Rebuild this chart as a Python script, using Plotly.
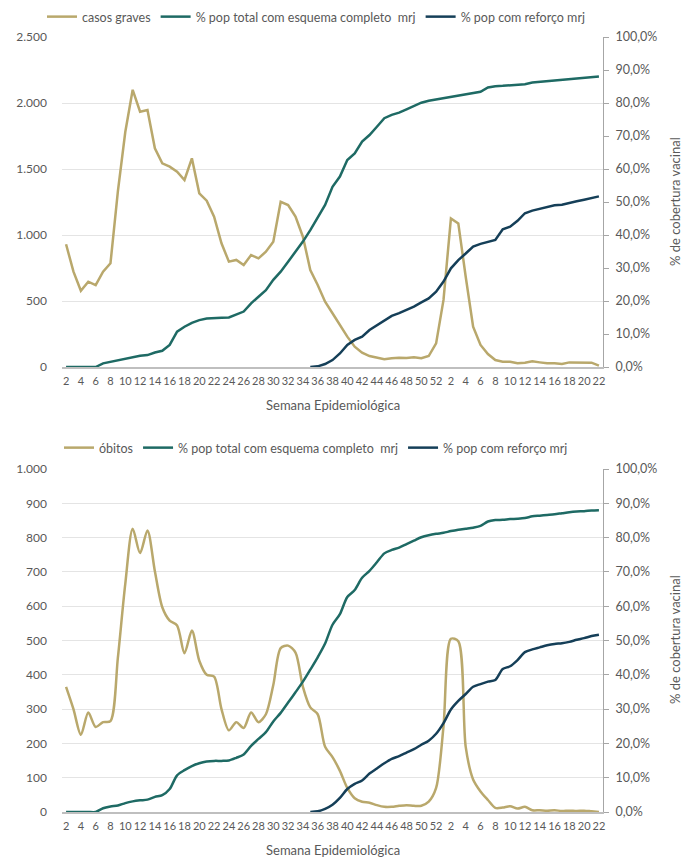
import plotly.graph_objects as go

# ---- data ----
weeks = list(range(2, 53)) + list(range(1, 23))  # SE 2021 (2..52) + SE 2022 (1..22)

casos_graves = [930, 722, 578, 646, 621, 722, 786, 1330, 1780, 2100,
                1934, 1947, 1657, 1543, 1518, 1480, 1417, 1581, 1316, 1260,
                1139, 937, 798, 811, 773, 848, 823, 873, 949, 1252,
                1227, 1139, 987, 735, 621, 495, 407, 318, 230, 154,
                109, 83, 71, 58, 66, 71, 68, 73, 66, 83,
                179,
                508, 1126, 1088, 684, 305, 167, 98, 53, 40, 40,
                28, 33, 43, 35, 28, 28, 23, 35, 33, 35,
                33, 10]

obitos = [365, 300, 225, 290, 248, 262, 265, 450, 665, 826,
          755, 821, 702, 597, 558, 544, 463, 529, 441, 400,
          395, 300, 238, 262, 245, 290, 262, 285, 370, 478,
          485, 465, 365, 305, 285, 190, 160, 120, 70, 40,
          30, 27, 20, 15, 15, 18, 20, 18, 18, 30,
          70,
          250, 505, 498, 190, 95, 60, 35, 12, 13, 17,
          10, 15, 5, 5, 4, 5, 3, 4, 3, 4,
          2, 0]

esquema_completo = [0, 0, 0, 0, 0, 1.1, 1.6, 1.9, 2.6, 3.1,
                    3.4, 3.6, 4.4, 4.9, 6.7, 10.7, 12.2, 13.4, 14.2, 14.7,
                    14.9, 14.9, 15.0, 15.8, 16.8, 19.3, 21.3, 23.3, 26.4, 28.9,
                    31.9, 34.9, 38.0, 41.5, 45.1, 49.1, 54.6, 57.7, 62.7, 64.7,
                    68.3, 70.3, 72.8, 75.4, 76.4, 77.1, 78.1, 79.1, 80.1, 80.7,
                    81.1,
                    81.4, 81.9, 82.3, 82.6, 82.9, 83.4, 84.7, 85.1, 85.2, 85.4,
                    85.5, 85.7, 86.2, 86.4, 86.6, 86.8, 87.1, 87.4, 87.6, 87.7,
                    87.9, 88.0]

reforco = [None] * 33 + [0, 0.2, 0.9, 2.1, 4.1, 6.7, 8.2, 9.2, 11.2, 12.7,
                         14.2, 15.5, 16.3, 17.3, 18.3, 19.6, 20.8, 22.8,
                         25.9, 29.9, 32.4, 34.4, 36.5, 37.3, 38.0, 38.5, 41.7, 42.5,
                         44.3, 46.6, 47.4, 48.0, 48.6, 49.0, 49.2, 49.6, 50.2, 50.7,
                         51.3, 51.7]

left_ticks_top = [0, 500, 1000, 1500, 2000, 2500]
left_ticks_bottom = [0, 100, 200, 300, 400, 500, 600, 700, 800, 900, 1000]
right_ticks = [0, 0.1, 0.2, 0.3, 0.4, 0.5, 0.6, 0.7, 0.8, 0.9, 1.0]

# ---- styling ----
C_CASOS = "#B9A86C"
C_COMPLETO = "#1E6A64"
C_REFORCO = "#153F58"
TXT = "#595959"
GRID = "#E4E4E4"
FONT = "Lato"

W, H = 684, 858
idx = list(range(len(weeks)))
completo_frac = [v / 100 for v in esquema_completo]
reforco_frac = [None if v is None else v / 100 for v in reforco]
tickvals = idx[::2]
ticktext = [str(weeks[i]) for i in tickvals]


def px_x(p):
    return p / W


def px_y(p):
    return 1 - p / H


fig = go.Figure()

# upper chart
fig.add_trace(go.Scatter(x=idx, y=casos_graves, name="casos graves", mode="lines",
                         line=dict(color=C_CASOS, width=2.5), xaxis="x", yaxis="y",
                         legend="legend"))
fig.add_trace(go.Scatter(x=idx, y=completo_frac, name="% pop total com esquema completo  mrj",
                         mode="lines", line=dict(color=C_COMPLETO, width=2.5),
                         xaxis="x", yaxis="y2", legend="legend"))
fig.add_trace(go.Scatter(x=idx, y=reforco_frac, name="% pop com reforço mrj", mode="lines",
                         line=dict(color=C_REFORCO, width=2.5), xaxis="x", yaxis="y2",
                         legend="legend"))

# lower chart (smoothed)
fig.add_trace(go.Scatter(x=idx, y=obitos, name="óbitos", mode="lines",
                         line=dict(color=C_CASOS, width=2.5, shape="spline", smoothing=0.8),
                         xaxis="x2", yaxis="y3", legend="legend2"))
fig.add_trace(go.Scatter(x=idx, y=completo_frac, name="% pop total com esquema completo  mrj",
                         mode="lines", line=dict(color=C_COMPLETO, width=2.5, shape="spline", smoothing=0.8),
                         xaxis="x2", yaxis="y4", legend="legend2"))
fig.add_trace(go.Scatter(x=idx, y=reforco_frac, name="% pop com reforço mrj", mode="lines",
                         line=dict(color=C_REFORCO, width=2.5, shape="spline", smoothing=0.8),
                         xaxis="x2", yaxis="y4", legend="legend2"))

xdom = [px_x(62), px_x(603)]
xrange_ = [-0.55, 72.55]

xcommon = dict(range=xrange_, tickmode="array", tickvals=tickvals, ticktext=ticktext,
               showgrid=False, zeroline=False, showline=True, linecolor="#BFBFBF", linewidth=2,
               ticks="", tickangle=0, tickfont=dict(family=FONT, size=11, color=TXT), domain=xdom,
               ticklabelstandoff=3, automargin=False)

ycommon_left = dict(showgrid=True, gridcolor=GRID, gridwidth=1, zeroline=False, showline=False,
                    tickformat=",d", tickfont=dict(family=FONT, size=12, color=TXT),
                    ticks="", ticklabelstandoff=14, automargin=False)

yright = dict(side="right", showgrid=False, zeroline=False, showline=True, linecolor="#A6A6A6",
              linewidth=1, ticks="outside", ticklen=5, tickcolor="#A6A6A6",
              tickmode="array", tickvals=right_ticks, tickformat=".1%", range=[0, 1],
              tickfont=dict(family=FONT, size=12.5, color=TXT), ticklabelstandoff=4,
              automargin=False)

legend_common = dict(orientation="h", xanchor="center", yanchor="middle",
                     font=dict(family=FONT, size=12.5, color=TXT), bgcolor="rgba(0,0,0,0)",
                     itemwidth=30, tracegroupgap=0)

fig.update_layout(
    width=W, height=H,
    margin=dict(l=0, r=0, t=0, b=0, autoexpand=False),
    paper_bgcolor="white", plot_bgcolor="white",
    separators=",.",
    font=dict(family=FONT, color=TXT, size=12),
    xaxis=dict(**xcommon, anchor="y"),
    yaxis=dict(**ycommon_left, domain=[px_y(367), px_y(37)], range=[0, 2500],
               tickvals=left_ticks_top, tickmode="array", anchor="x"),
    yaxis2=dict(**yright, overlaying="y", anchor="x"),
    xaxis2=dict(**xcommon, anchor="y3"),
    yaxis3=dict(**ycommon_left, domain=[px_y(812), px_y(469)], range=[0, 1000],
                tickvals=left_ticks_bottom, tickmode="array", anchor="x2"),
    yaxis4=dict(**yright, overlaying="y3", anchor="x2"),
    legend=dict(**legend_common, x=px_x(316), y=px_y(17)),
    legend2=dict(**legend_common, x=px_x(316), y=px_y(448)),
    showlegend=True,
)

annotations = [
    dict(text="Semana Epidemiológica", x=px_x(333), y=px_y(405), xref="paper", yref="paper",
         showarrow=False, font=dict(family=FONT, size=13, color=TXT), xanchor="center", yanchor="middle"),
    dict(text="Semana Epidemiológica", x=px_x(333), y=px_y(850), xref="paper", yref="paper",
         showarrow=False, font=dict(family=FONT, size=13, color=TXT), xanchor="center", yanchor="middle"),
    dict(text="% de cobertura vacinal", x=px_x(675), y=px_y(202), xref="paper", yref="paper",
         showarrow=False, textangle=-90, font=dict(family=FONT, size=13, color=TXT),
         xanchor="center", yanchor="middle"),
    dict(text="% de cobertura vacinal", x=px_x(675), y=px_y(640), xref="paper", yref="paper",
         showarrow=False, textangle=-90, font=dict(family=FONT, size=13, color=TXT),
         xanchor="center", yanchor="middle"),
]
fig.update_layout(annotations=annotations)

fig.write_html("out.html", config={"displayModeBar": False},
               post_script="document.body.style.margin='0';document.body.style.overflow='hidden';")
